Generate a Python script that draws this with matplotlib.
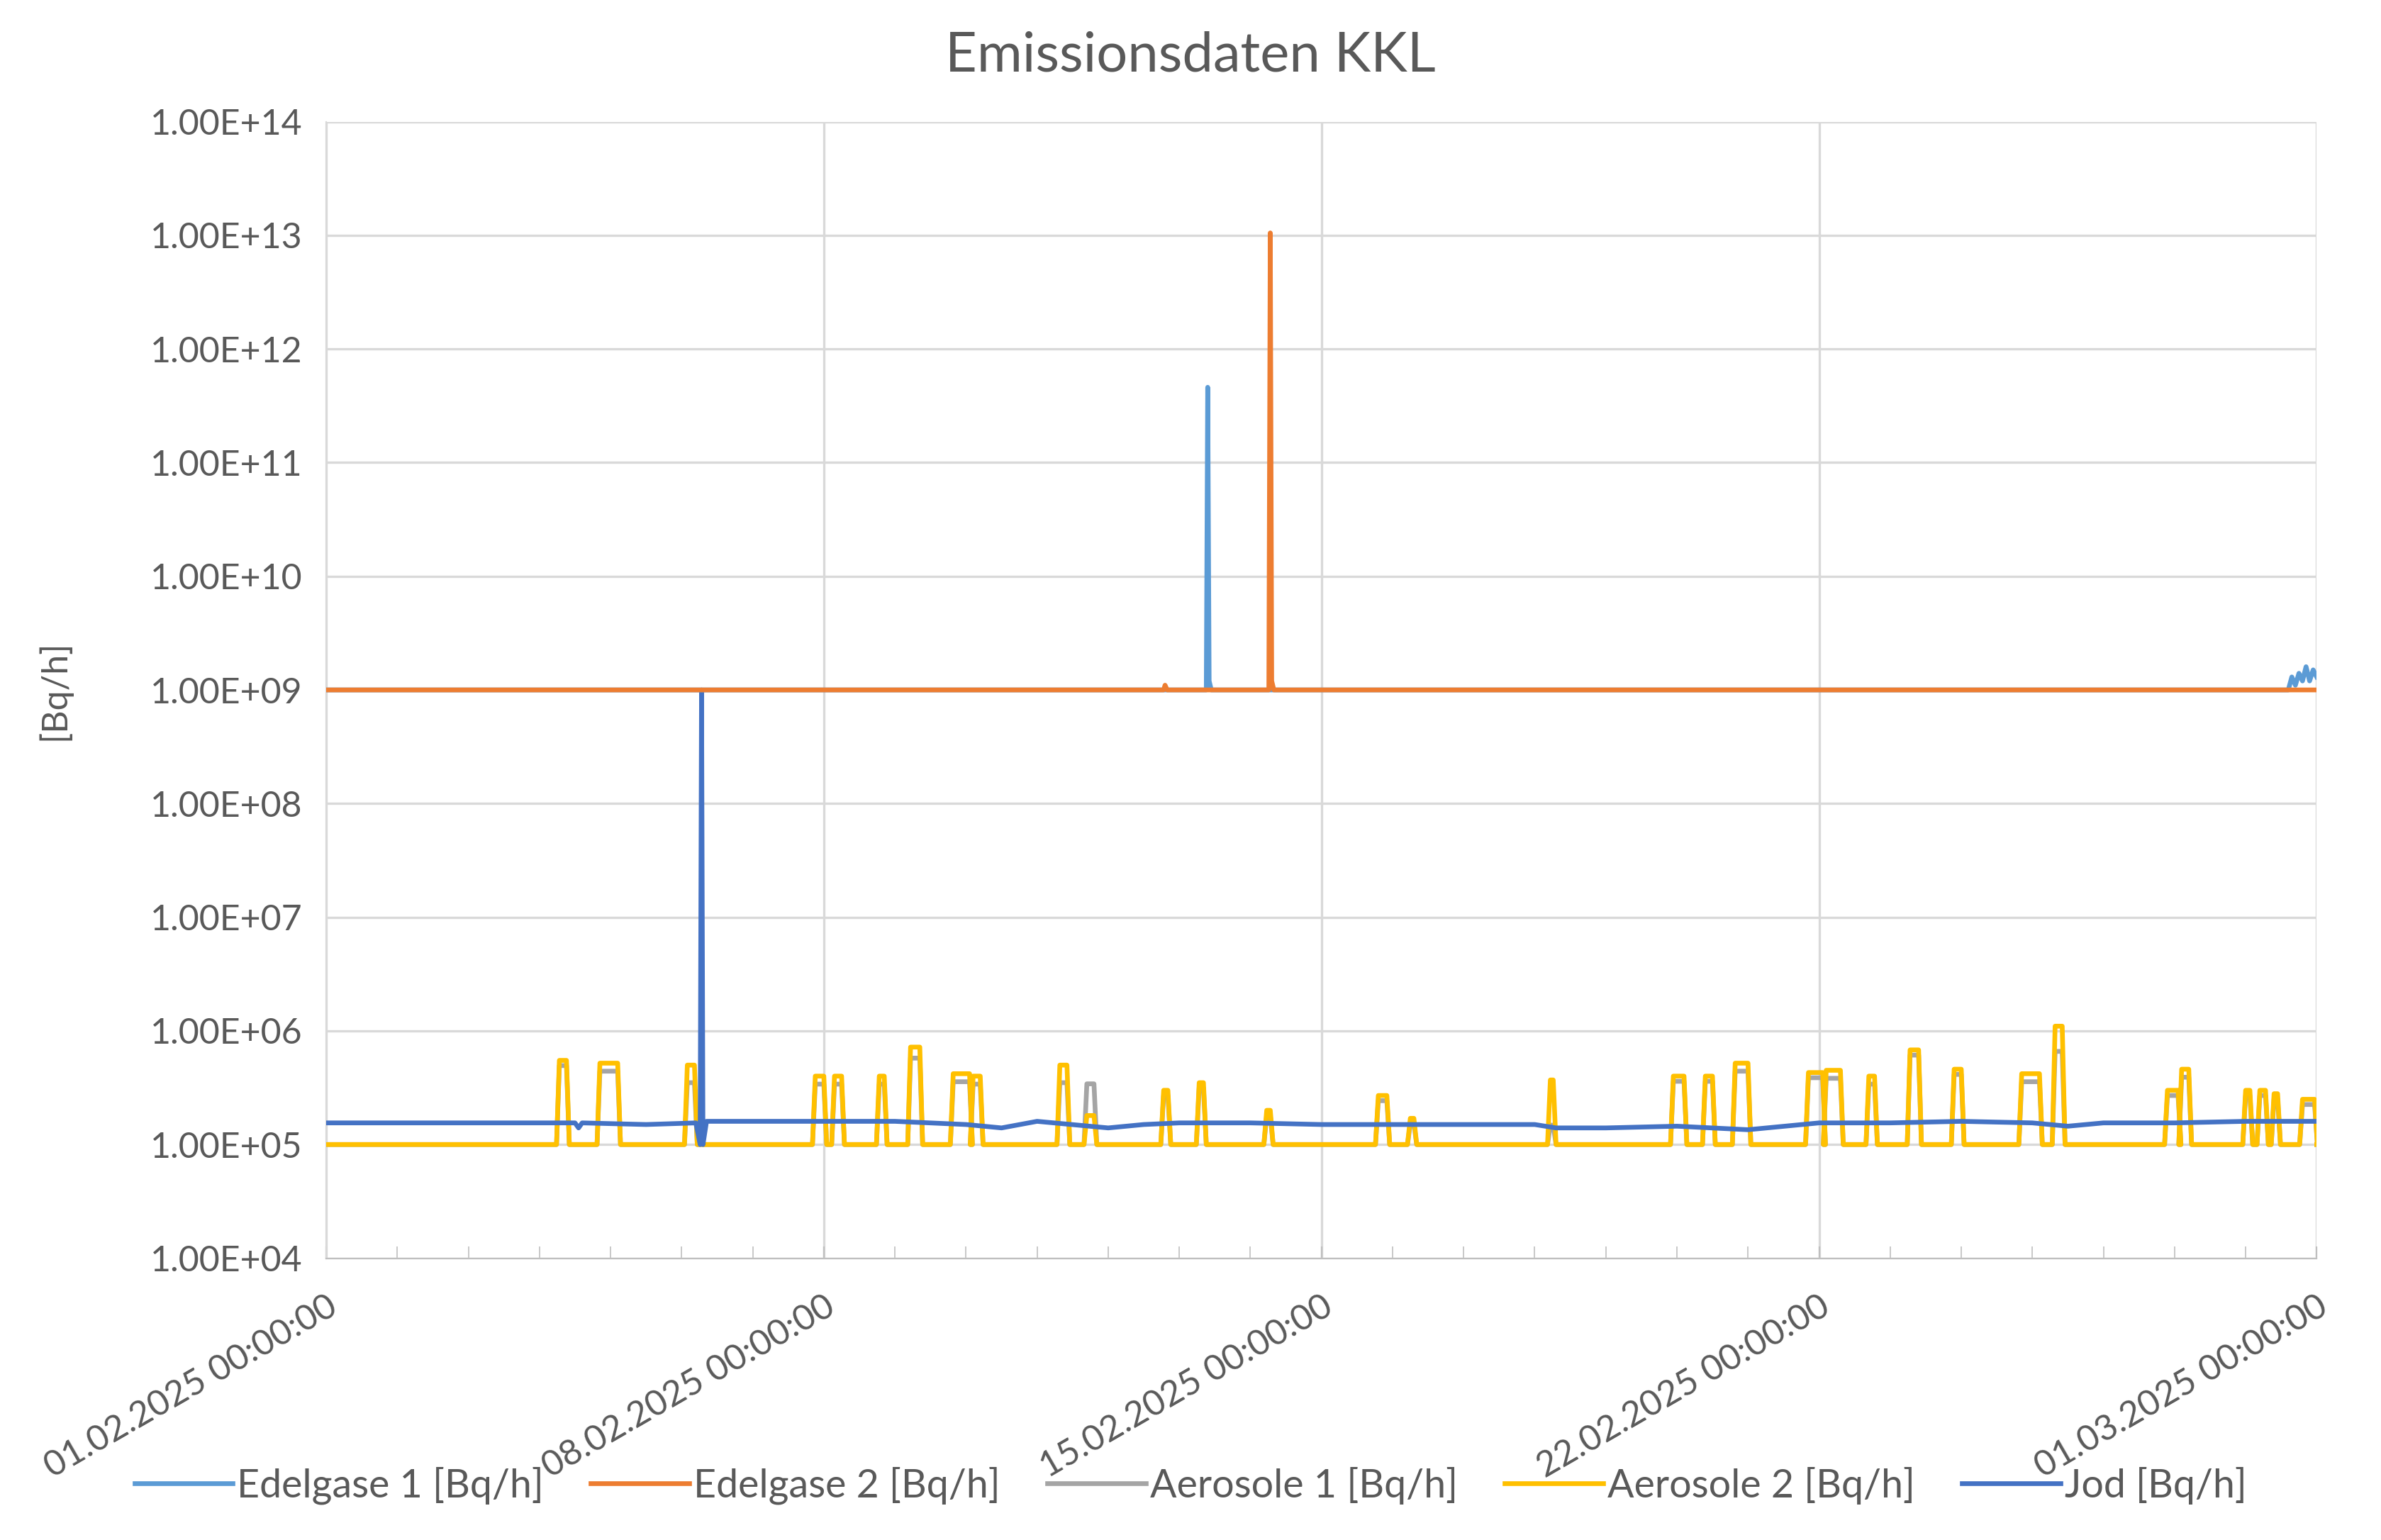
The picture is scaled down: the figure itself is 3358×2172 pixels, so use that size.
import matplotlib
matplotlib.use("Agg")
import matplotlib.pyplot as plt
from matplotlib.ticker import FixedLocator, FuncFormatter, NullFormatter
import numpy as np

plt.rcParams["font.family"] = "Lato"

# x in days since 01.02.2025 00:00
xticks_days = [0, 7, 14, 21, 28]
xtick_labels = ["01.02.2025 00:00:00", "08.02.2025 00:00:00", "15.02.2025 00:00:00",
                "22.02.2025 00:00:00", "01.03.2025 00:00:00"]

edel1_x = [0, 12.38, 12.40, 12.42, 12.45, 27.6, 27.65, 27.7, 27.75, 27.8, 27.85, 27.9, 27.95, 28.0]
edel1_y = [1e9, 1e9, 4.6e11, 1.2e9, 1e9, 1e9, 1.3e9, 1.1e9, 1.4e9, 1.2e9, 1.6e9, 1.2e9, 1.5e9, 1.3e9]

edel2_x = [0, 11.78, 11.8, 11.83, 13.26, 13.28, 13.30, 13.33, 28.0]
edel2_y = [1e9, 1e9, 1.1e9, 1e9, 1e9, 1.05e13, 1.2e9, 1e9, 1e9]

jod_x = [0, 3.5, 3.55, 3.6, 4.5, 5.2, 5.26, 5.28, 5.30, 5.35, 6.0, 7.0, 8.0, 9.0, 9.5, 10.0,
         11.0, 11.5, 12.0, 13.0, 14.0, 15.0, 16.0, 17.0, 17.3, 18.0, 19.0, 20.0, 21.0, 22.0,
         23.0, 24.0, 24.5, 25.0, 26.0, 27.0, 28.0]
jod_y = [1.55e5, 1.55e5, 1.4e5, 1.55e5, 1.5e5, 1.55e5, 1.0e5, 1.0e9, 1.0e5, 1.6e5, 1.6e5, 1.6e5,
         1.6e5, 1.5e5, 1.4e5, 1.6e5, 1.4e5, 1.5e5, 1.55e5, 1.55e5, 1.5e5, 1.5e5, 1.5e5, 1.5e5,
         1.4e5, 1.4e5, 1.45e5, 1.35e5, 1.55e5, 1.55e5, 1.6e5, 1.55e5, 1.45e5, 1.55e5, 1.55e5,
         1.6e5, 1.6e5]

# aerosol bursts: start day, end day, peak
aer2_start = [3.28, 3.85, 5.08, 6.88, 7.15, 7.78, 8.22, 8.82, 9.1, 10.32, 10.7, 11.78, 12.28, 13.23,
              14.8, 15.25, 17.22, 18.95, 19.4, 19.82, 20.85, 21.1, 21.7, 22.28, 22.9, 23.85, 24.32,
              25.9, 26.1, 27.0, 27.2, 27.4, 27.8]
aer2_end = [3.38, 4.1, 5.18, 7.0, 7.25, 7.85, 8.35, 9.05, 9.2, 10.42, 10.8, 11.84, 12.34, 13.28,
            14.92, 15.3, 17.26, 19.1, 19.5, 20.0, 21.05, 21.3, 21.78, 22.4, 23.0, 24.1, 24.42,
            26.05, 26.2, 27.06, 27.28, 27.45, 27.97]
aer2_peak = [5.5e5, 5.2e5, 5e5, 4e5, 4e5, 4e5, 7.2e5, 4.2e5, 4e5, 5e5, 1.8e5, 3e5, 3.5e5, 2e5,
             2.7e5, 1.7e5, 3.7e5, 4e5, 4e5, 5.2e5, 4.3e5, 4.5e5, 4e5, 6.8e5, 4.6e5, 4.2e5, 1.1e6,
             3e5, 4.6e5, 3e5, 3e5, 2.8e5, 2.5e5]
aer1_scale = [0.9, 0.85, 0.7, 0.85, 0.85, 0.85, 0.8, 0.85, 0.85, 0.7, 1.9, 0.9, 0.9, 0.9,
              0.9, 0.9, 0.4, 0.9, 0.9, 0.85, 0.9, 0.85, 0.85, 0.9, 0.9, 0.85, 0.6,
              0.9, 0.85, 0.9, 0.9, 0.9, 0.9]
base_aer = 1e5


def burst_series(starts, ends, peaks):
    xs, ys = [0.0], [base_aer]
    for s, e, p in zip(starts, ends, peaks):
        xs += [s - 0.04, s, e, e + 0.04]
        ys += [base_aer, p, p, base_aer]
    xs.append(28.0)
    ys.append(base_aer)
    return xs, ys


fig = plt.figure(figsize=(16.79, 10.86), dpi=200)
ax = fig.add_axes([0.137, 0.183, 0.836, 0.738])

a1x, a1y = burst_series(aer2_start, aer2_end, [p * s for p, s in zip(aer2_peak, aer1_scale)])
a2x, a2y = burst_series(aer2_start, aer2_end, aer2_peak)

lw = 2.4
ax.plot(a1x, a1y, color="#A5A5A5", lw=lw, label="Aerosole 1 [Bq/h]", zorder=3)
ax.plot(a2x, a2y, color="#FFC000", lw=lw, label="Aerosole 2 [Bq/h]", zorder=4)
ax.plot(jod_x, jod_y, color="#4472C4", lw=lw, label="Jod [Bq/h]", zorder=5)
ax.plot(edel1_x, edel1_y, color="#5B9BD5", lw=lw, label="Edelgase 1 [Bq/h]", zorder=6)
ax.plot(edel2_x, edel2_y, color="#ED7D31", lw=lw, label="Edelgase 2 [Bq/h]", zorder=7)

ax.set_yscale("log")
ax.set_ylim(1e4, 1e14)
ax.set_xlim(0, 28)
ax.yaxis.set_major_locator(FixedLocator([10.0 ** k for k in range(4, 15)]))
ax.yaxis.set_minor_formatter(NullFormatter())
ax.yaxis.set_minor_locator(FixedLocator([]))
ax.yaxis.set_major_formatter(FuncFormatter(lambda v, p: "1.00E+%02d" % round(np.log10(v))))
ax.set_xticks(xticks_days)
ax.set_xticklabels(xtick_labels, rotation=30, ha="right", rotation_mode="anchor")
ax.set_xticks(range(29), minor=True)
ax.tick_params(axis="x", which="both", length=6, color="#BFBFBF", direction="in", labelsize=18, labelcolor="#595959", pad=16)
ax.tick_params(axis="y", length=0, labelsize=18, labelcolor="#595959", pad=12)
ax.grid(True, which="major", color="#D9D9D9", lw=1.2)
ax.set_axisbelow(True)
for s in ["top", "right"]:
    ax.spines[s].set_visible(False)
ax.spines["left"].set_color("#D9D9D9")
ax.spines["bottom"].set_color("#BFBFBF")
ax.set_ylabel("[Bq/h]", fontsize=18, color="#595959", labelpad=40)

fig.suptitle("Emissionsdaten KKL", fontsize=28, color="#595959", y=0.98)

handles, labels = ax.get_legend_handles_labels()
order = [3, 4, 0, 1, 2]
ax.legend([handles[i] for i in order], [labels[i] for i in order], loc="lower center",
          bbox_to_anchor=(0.5, 0.0), bbox_transform=fig.transFigure, ncol=5,
          frameon=False, fontsize=20, labelcolor="#595959", handlelength=2.5,
          columnspacing=1.2, handletextpad=0.1)

fig.savefig("out.png", dpi=200)
